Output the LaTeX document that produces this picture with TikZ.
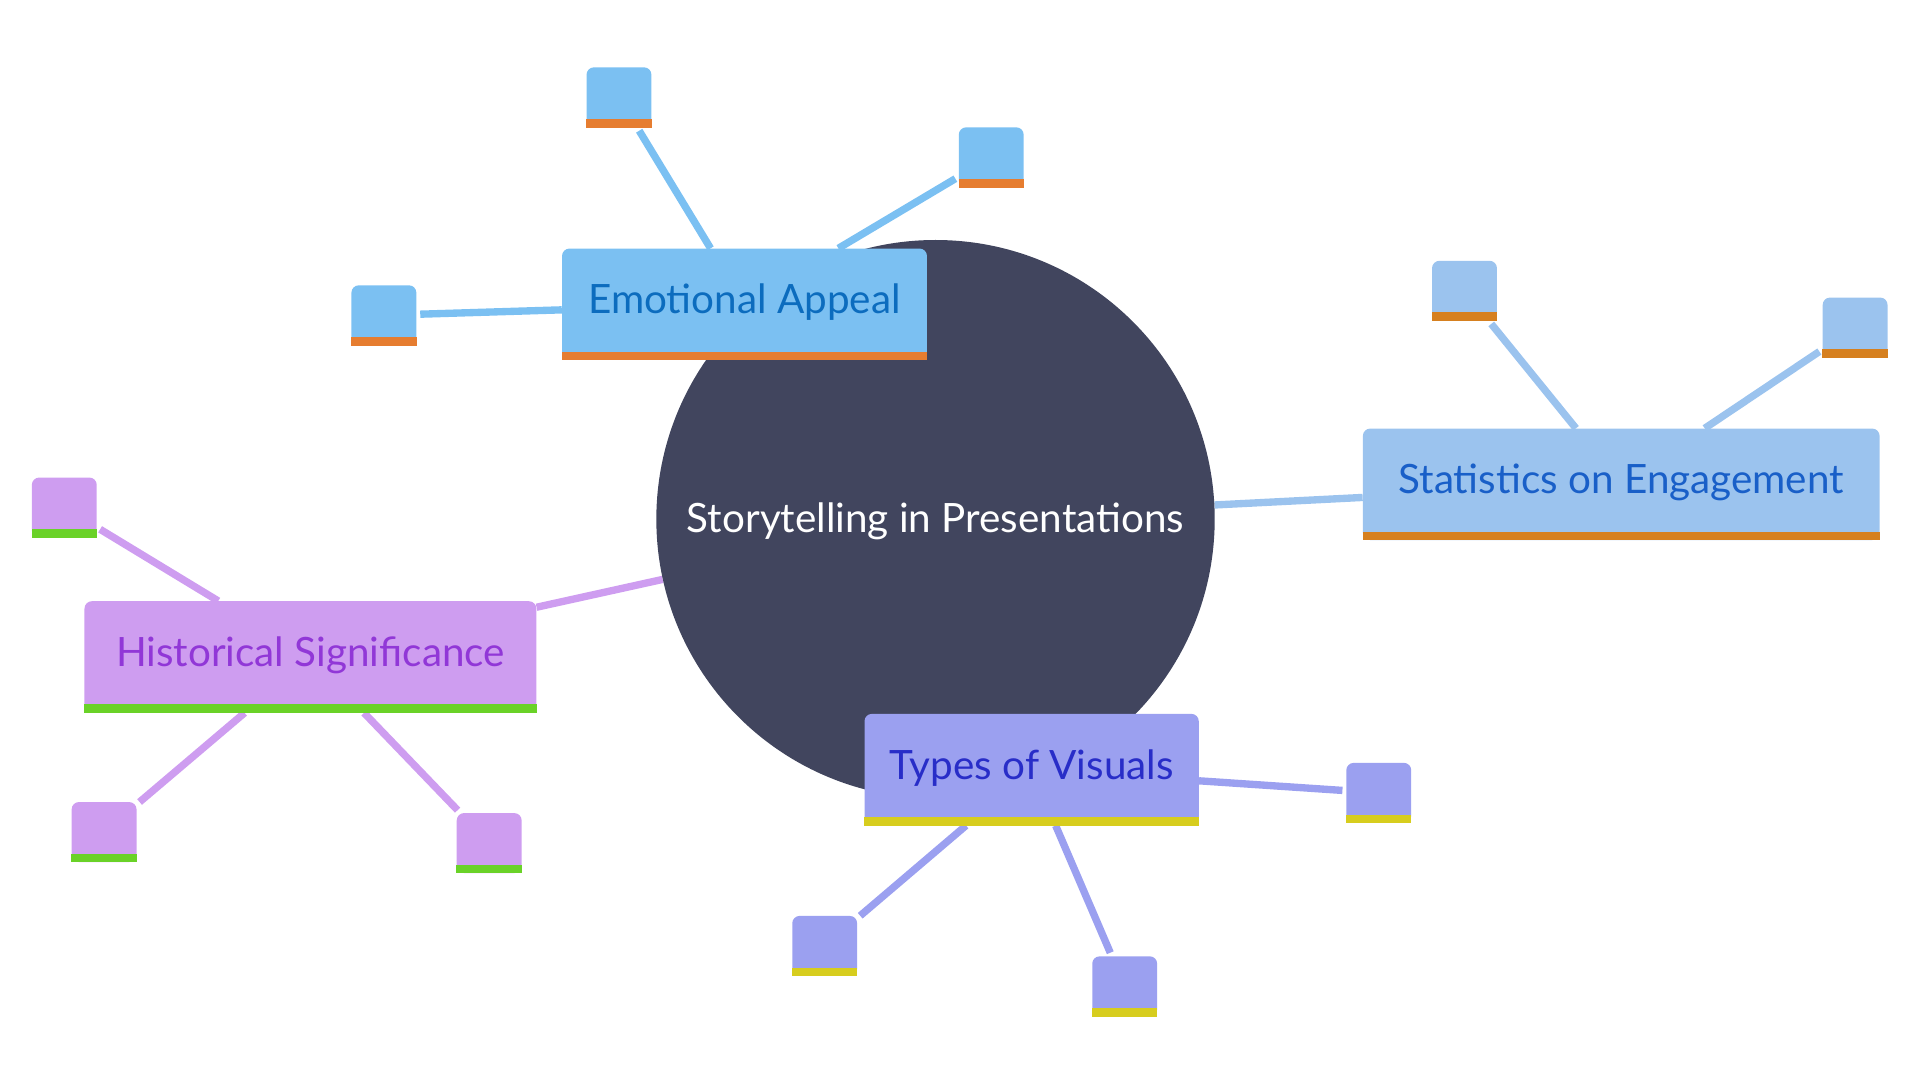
\documentclass[tikz,border=0pt]{standalone}
\usepackage{fontspec}
\setmainfont{Lato}
\usetikzlibrary{backgrounds}
\definecolor{core}{HTML}{41455E}
\definecolor{eaF}{HTML}{7BC0F2}\definecolor{eaB}{HTML}{E67D30}\definecolor{eaT}{HTML}{0C6CBE}
\definecolor{stF}{HTML}{9BC3EE}\definecolor{stB}{HTML}{D6801F}\definecolor{stT}{HTML}{195FC8}
\definecolor{hsF}{HTML}{CE9DF0}\definecolor{hsB}{HTML}{6AD228}\definecolor{hsT}{HTML}{9137D7}
\definecolor{tvF}{HTML}{9BA0F0}\definecolor{tvB}{HTML}{D7CD1E}\definecolor{tvT}{HTML}{282DC8}
\tikzset{
  box/.style={fill=#1, rounded corners=6pt, inner sep=0pt, minimum height=91pt},
  lbl/.style={text=#1, font=\fontsize{33}{36}\selectfont, yshift=1.5pt},
  leaf/.style={fill=#1, rounded corners=6pt, inner sep=0pt, minimum width=53pt, minimum height=49pt},
  ln/.style={draw=#1, line width=6pt},
}
\begin{document}
\begin{tikzpicture}[x=1pt,y=-1pt]
\useasboundingbox (0,0) rectangle (1568,882);
\node[circle, fill=core, minimum size=456pt, inner sep=0pt,
  label={[text=white, font=\fontsize{33}{36}\selectfont, yshift=-2pt]center:Storytelling in Presentations}] (c) at (764,424) {};

\node[box=eaF, minimum width=298pt, label={[lbl=eaT]center:Emotional Appeal}] (ea) at (608,248.5) {};
\node[box=stF, minimum width=422pt, label={[lbl=stT]center:Statistics on Engagement}] (st) at (1324,395.5) {};
\node[box=hsF, minimum width=369pt, label={[lbl=hsT]center:Historical Significance}] (hs) at (253.5,536.5) {};
\node[box=tvF, minimum width=273pt, label={[lbl=tvT]center:Types of Visuals}] (tv) at (842.5,628.5) {};

\node[leaf=eaF] (ea1) at (505.5,79.5) {};
\node[leaf=eaF] (ea2) at (809.5,128.5) {};
\node[leaf=eaF] (ea3) at (313.5,257.5) {};
\node[leaf=stF] (st1) at (1196,237.5) {};
\node[leaf=stF] (st2) at (1515,267.5) {};
\node[leaf=hsF] (hs1) at (52.5,414.5) {};
\node[leaf=hsF] (hs2) at (85,679.5) {};
\node[leaf=hsF] (hs3) at (399.5,688.5) {};
\node[leaf=tvF] (tv1) at (1126,647.5) {};
\node[leaf=tvF] (tv2) at (673.5,772.5) {};
\node[leaf=tvF] (tv3) at (918.5,805.5) {};

\foreach \n/\b in {ea/eaB,ea1/eaB,ea2/eaB,ea3/eaB,st/stB,st1/stB,st2/stB,hs/hsB,hs1/hsB,hs2/hsB,hs3/hsB,tv/tvB,tv1/tvB,tv2/tvB,tv3/tvB}
  \fill[\b] (\n.south west) rectangle ([yshift=7pt]\n.south east);

\begin{scope}[on background layer]
\draw[ln=stF] (c) -- (st);
\draw[ln=hsF] (c) -- (hs);
\draw[ln=eaF, shorten >=3pt] (ea) -- (ea1);
\draw[ln=eaF, shorten >=3pt] (ea) -- (ea2);
\draw[ln=eaF, shorten >=3pt] (ea) -- (ea3);
\draw[ln=stF, shorten >=3pt] (st) -- (st1);
\draw[ln=stF, shorten >=3pt] (st) -- (st2);
\draw[ln=hsF, shorten >=3pt] (hs) -- (hs1);
\draw[ln=hsF, shorten >=3pt] (hs) -- (hs2);
\draw[ln=hsF, shorten >=3pt] (hs) -- (hs3);
\draw[ln=tvF, shorten >=3pt] (tv) -- (tv1);
\draw[ln=tvF, shorten >=3pt] (tv) -- (tv2);
\draw[ln=tvF, shorten >=3pt] (tv) -- (tv3);
\end{scope}
\end{tikzpicture}
\end{document}
